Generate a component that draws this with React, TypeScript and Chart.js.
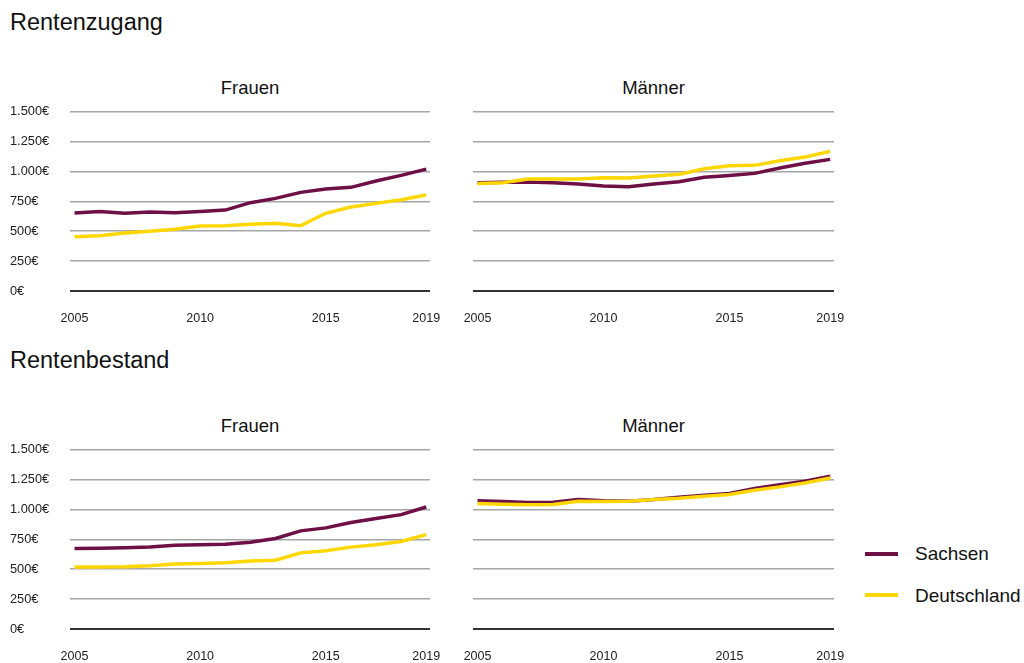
import React, { useEffect, useRef } from "react";
import { Chart, registerables } from "chart.js";

Chart.register(...registerables);

const years = [2005, 2006, 2007, 2008, 2009, 2010, 2011, 2012, 2013, 2014, 2015, 2016, 2017, 2018, 2019];
const xTickYears = [2005, 2010, 2015, 2019];
const yTicks = [0, 250, 500, 750, 1000, 1250, 1500];

// Rentenzugang
const zugangFrauenSachsen = [652, 666, 650, 661, 655, 666, 677, 739, 775, 825, 853, 867, 920, 967, 1020];
const zugangFrauenDeutschland = [454, 463, 485, 499, 516, 544, 546, 558, 566, 546, 650, 703, 733, 764, 803];
const zugangMaennerSachsen = [906, 909, 912, 906, 895, 878, 873, 895, 914, 951, 967, 984, 1029, 1068, 1101];
const zugangMaennerDeutschland = [900, 906, 937, 937, 937, 948, 945, 962, 976, 1023, 1048, 1051, 1090, 1121, 1168];

// Rentenbestand
const bestandFrauenSachsen = [673, 676, 679, 685, 701, 704, 710, 726, 757, 821, 846, 891, 924, 957, 1021];
const bestandFrauenDeutschland = [518, 518, 520, 529, 543, 548, 554, 568, 576, 637, 654, 685, 704, 732, 790];
const bestandMaennerSachsen = [1072, 1067, 1058, 1061, 1083, 1072, 1069, 1083, 1103, 1119, 1133, 1175, 1206, 1236, 1278];
const bestandMaennerDeutschland = [1050, 1044, 1039, 1042, 1069, 1067, 1069, 1083, 1094, 1111, 1125, 1161, 1189, 1222, 1264];

const seriesNames = ["Sachsen", "Deutschland"];
const PURPLE = "#6e0f45";
const YELLOW = "#ffd700";
const FONT = "'Liberation Sans', Arial, sans-serif";

function formatEuro(v: number): string {
  const s = Math.round(v).toString();
  const withDots = s.replace(/\B(?=(\d{3})+(?!\d))/g, ".");
  return withDots + "€";
}

type PanelProps = {
  left: number;
  top: number;
  width: number;
  height: number;
  showYLabels: boolean;
  sachsen: number[];
  deutschland: number[];
};

function Panel({ left, top, width, height, showYLabels, sachsen, deutschland }: PanelProps) {
  const ref = useRef<HTMLCanvasElement | null>(null);
  useEffect(() => {
    if (!ref.current) return;
    const chart = new Chart(ref.current, {
      type: "line",
      data: {
        datasets: [
          {
            label: seriesNames[1],
            data: years.map((y, i) => ({ x: y, y: deutschland[i] })),
            borderColor: YELLOW,
            backgroundColor: YELLOW,
            borderWidth: 3.5,
            pointRadius: 0,
            tension: 0,
          },
          {
            label: seriesNames[0],
            data: years.map((y, i) => ({ x: y, y: sachsen[i] })),
            borderColor: PURPLE,
            backgroundColor: PURPLE,
            borderWidth: 3.5,
            pointRadius: 0,
            tension: 0,
          },
        ],
      },
      options: {
        animation: false,
        responsive: false,
        maintainAspectRatio: false,
        layout: {
          padding: { left: showYLabels ? 0 : 20, right: 20, top: 11.7, bottom: 0 },
        },
        plugins: {
          legend: { display: false },
          title: { display: false },
          tooltip: { enabled: false },
        },
        scales: {
          x: {
            type: "linear",
            min: 2004.82,
            max: 2019.15,
            afterBuildTicks: (scale: any) => {
              scale.ticks = xTickYears.map((v) => ({ value: v }));
            },
            afterFit: (scale: any) => {
              scale.height = 39;
              scale.paddingLeft = 0;
              scale.paddingRight = 0;
            },
            grid: { display: false, drawTicks: false },
            border: { display: false },
            ticks: {
              autoSkip: false,
              maxRotation: 0,
              padding: 20,
              color: "#222",
              font: { family: FONT, size: 12.5 },
              callback: (v: any) => String(v),
            },
          },
          y: {
            min: 0,
            max: 1500,
            afterBuildTicks: (scale: any) => {
              scale.ticks = yTicks.map((v) => ({ value: v }));
            },
            afterFit: (scale: any) => {
              scale.width = showYLabels ? 60 : 0;
              scale.paddingTop = 0;
              scale.paddingBottom = 0;
            },
            grid: {
              drawTicks: false,
              color: (ctx: any) => (ctx.tick && ctx.tick.value === 0 ? "#333333" : "#a6a6a6"),
              lineWidth: (ctx: any) => (ctx.tick && ctx.tick.value === 0 ? 2 : 1.5),
            },
            border: { display: false },
            ticks: {
              display: showYLabels,
              crossAlign: "far",
              padding: 0,
              color: "#222",
              font: { family: FONT, size: 12.8 },
              callback: (v: any) => formatEuro(Number(v)),
            },
          },
        },
      },
    } as any);
    return () => chart.destroy();
  }, []);
  return (
    <canvas
      ref={ref}
      width={width}
      height={height}
      style={{ position: "absolute", left, top, width, height }}
    />
  );
}

const textBase: React.CSSProperties = {
  position: "absolute",
  fontFamily: FONT,
  color: "#111",
  whiteSpace: "nowrap",
  margin: 0,
  lineHeight: 1,
};

export default function App() {
  const rowOffset = 337.6;
  return (
    <div style={{ position: "absolute", left: 0, top: 0, width: 1024, height: 663, background: "#fff", overflow: "hidden" }}>
      <div style={{ ...textBase, left: 10, top: 11, fontSize: 23.5 }}>Rentenzugang</div>
      <div style={{ ...textBase, left: 10, top: 11 + rowOffset, fontSize: 23.5 }}>Rentenbestand</div>

      {[0, 1].map((r) => (
        <React.Fragment key={r}>
          <div style={{ ...textBase, left: 70, width: 360, textAlign: "center", top: 79 + r * rowOffset, fontSize: 18.5 }}>Frauen</div>
          <div style={{ ...textBase, left: 473, width: 361, textAlign: "center", top: 79 + r * rowOffset, fontSize: 18.5 }}>Männer</div>
        </React.Fragment>
      ))}

      <Panel left={10} top={100} width={440} height={230} showYLabels={true}
        sachsen={zugangFrauenSachsen} deutschland={zugangFrauenDeutschland} />
      <Panel left={453} top={100} width={401} height={230} showYLabels={false}
        sachsen={zugangMaennerSachsen} deutschland={zugangMaennerDeutschland} />
      <Panel left={10} top={100 + rowOffset} width={440} height={230} showYLabels={true}
        sachsen={bestandFrauenSachsen} deutschland={bestandFrauenDeutschland} />
      <Panel left={453} top={100 + rowOffset} width={401} height={230} showYLabels={false}
        sachsen={bestandMaennerSachsen} deutschland={bestandMaennerDeutschland} />

      {/* Legend */}
      <div style={{ position: "absolute", left: 865, top: 551.5, width: 33, height: 4, background: PURPLE }} />
      <div style={{ ...textBase, left: 915, top: 544, fontSize: 19 }}>{seriesNames[0]}</div>
      <div style={{ position: "absolute", left: 865, top: 593, width: 33, height: 4, background: YELLOW }} />
      <div style={{ ...textBase, left: 915, top: 586, fontSize: 19 }}>{seriesNames[1]}</div>
    </div>
  );
}
